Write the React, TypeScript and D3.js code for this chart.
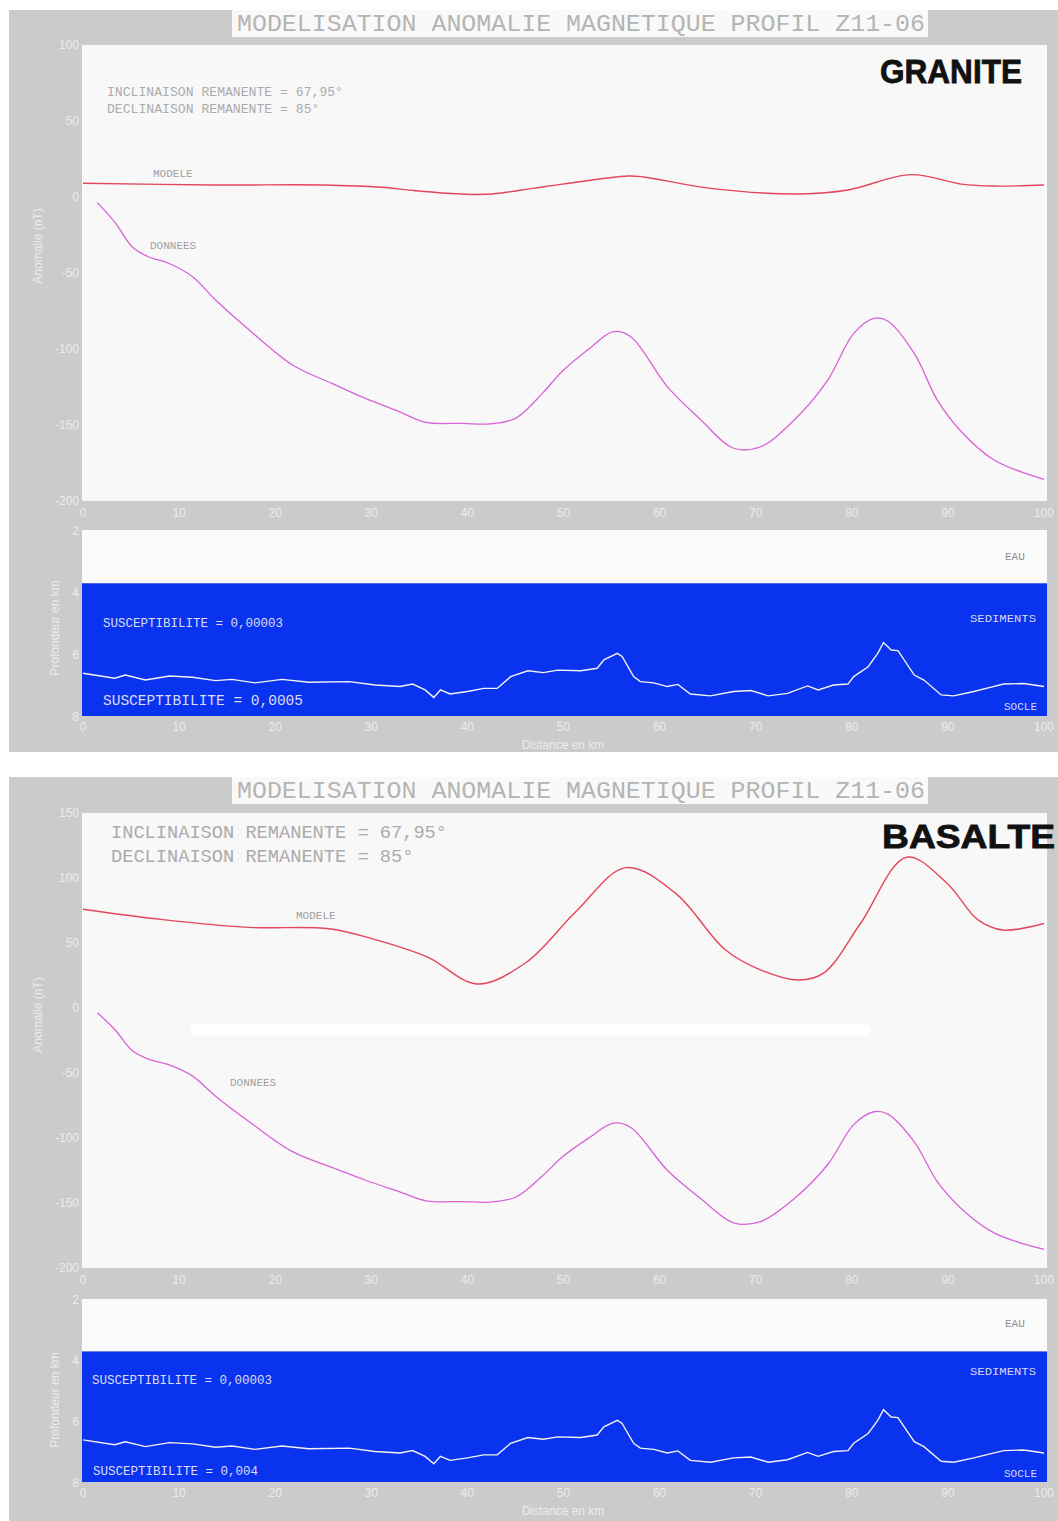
import React from "react";
import * as d3 from "d3";

// ---------- DATA ----------
const TITLE = "MODELISATION ANOMALIE MAGNETIQUE PROFIL Z11-06";
const xTicks = [0, 10, 20, 30, 40, 50, 60, 70, 80, 90, 100];
const yTicksGranite = [100, 50, 0, -50, -100, -150, -200];
const yTicksBasalte = [150, 100, 50, 0, -50, -100, -150, -200];
const depthTicks = [2, 4, 6, 8];
const seaFloorDepth = 3.72;

// observed anomaly (nT) [km, value]
const donnees: [number, number][] = [
  [1.5, -3.7], [3.4, -17.3], [5.1, -32.7], [6.8, -39.3], [8.9, -43.6], [11.4, -52.4],
  [13.8, -67.8], [17.3, -87.5], [21.8, -110.5], [25.9, -122.6], [29.4, -132.5],
  [32.9, -141.2], [35.7, -148.3], [39.5, -148.9], [42.3, -149.3], [45.0, -145.6],
  [47.8, -129.2], [49.9, -114.5], [52.5, -100.7], [55.2, -88.6], [57.0, -91.9],
  [60.8, -124.8], [64.3, -146.7], [67.7, -165.3], [70.5, -164.3], [74.0, -146.7],
  [77.5, -120.4], [80.2, -89.7], [82.3, -79.8], [83.7, -81.4], [86.5, -102.9],
  [88.9, -133.6], [91.4, -154.4], [94.8, -173.0], [100, -185.7],
];

// model anomaly, granite case
const modeleGranite: [number, number][] = [
  [0, 9], [13.8, 7.9], [24.9, 7.9], [31.1, 6.4], [34.6, 4.1], [39.8, 1.8], [42.6, 2],
  [46.8, 5.7], [49.9, 8.5], [56.7, 13.8], [58.3, 13.2], [65.3, 5.7], [74.7, 2],
  [79.6, 4.6], [86.1, 14.7], [91.4, 8.5], [94.8, 7.2], [100, 7.9],
];

// model anomaly, basalte case
const modeleBasalte: [number, number][] = [
  [0, 76], [8.3, 68], [17.3, 62], [25.6, 61], [30.7, 52], [35.9, 39], [41.0, 18.5],
  [46.1, 35], [51.4, 75], [56.5, 108], [61.7, 88], [66.8, 45], [70.6, 29], [74.5, 21.5],
  [77.1, 27], [80.9, 65], [85.7, 116], [89.9, 96], [93.1, 68], [95.7, 60], [100, 65],
];

// basement depth (km) [km, depth]
const socle: [number, number][] = [
  [0, 6.62], [3.3, 6.78], [4.4, 6.68], [6.5, 6.84], [9.0, 6.71], [11.4, 6.75], [13.8, 6.86],
  [15.5, 6.82], [17.9, 6.93], [20.7, 6.82], [23.5, 6.91], [27.7, 6.89], [30.4, 7.0],
  [33.0, 7.05], [34.3, 6.97], [35.6, 7.16], [36.5, 7.4], [37.2, 7.16], [38.2, 7.29],
  [40.0, 7.21], [41.7, 7.11], [43.1, 7.11], [44.5, 6.73], [46.3, 6.54], [47.9, 6.6],
  [49.4, 6.52], [51.8, 6.54], [53.5, 6.46], [54.2, 6.19], [55.6, 5.98], [56.1, 6.08],
  [57.3, 6.73], [58.0, 6.89], [59.4, 6.93], [60.8, 7.05], [61.9, 6.98], [63.2, 7.29],
  [65.3, 7.35], [67.7, 7.21], [69.5, 7.18], [71.3, 7.35], [73.3, 7.27], [75.4, 7.03],
  [76.5, 7.16], [78.1, 7.0], [79.6, 6.97], [80.2, 6.73], [81.7, 6.41], [82.7, 5.98],
  [83.3, 5.63], [84.1, 5.87], [84.8, 5.89], [86.5, 6.68], [87.5, 6.84], [89.3, 7.32],
  [90.6, 7.35], [92.7, 7.21], [94.5, 7.07], [95.8, 6.97], [97.9, 6.95], [100, 7.05],
];

// ---------- STYLE ----------
const GRAY = "#cbcbcb";
const PLOT_BG = "#f8f8f8";
const BLUE = "#0a33f0";
const TICK = "#ececec";
const MONO = "'Liberation Mono', 'DejaVu Sans Mono', monospace";
const SANS = "'Liberation Sans', Arial, sans-serif";

type FigProps = {
  top: number;
  bottom: number;
  plotTop: number;
  plotBottom: number;
  yDomain: [number, number];
  yTicks: number[];
  depthTop: number;
  depthBottom: number;
  model: [number, number][];
  label: string;
  labelX: number;
  labelW: number;
  labelBase: number;
  incl: { x: number; y1: number; y2: number; size: number; w: number };
  modeleLbl: { x: number; y: number; size: number };
  donneesLbl: { x: number; y: number; size: number };
  sus1: { text: string; x: number; y: number; size: number; w: number };
  sus2: { text: string; x: number; y: number; size: number; w: number };
  layerLbl: { eau: number; sed: number; socle: number };
  yLabelCenter: number;
  depthLabelCenter: number;
  smear?: boolean;
};

function Figure(p: FigProps) {
  const x = d3.scaleLinear().domain([0, 100]).range([83, 1044]);
  const y = d3.scaleLinear().domain(p.yDomain).range([p.plotBottom, p.plotTop]);
  const dz = d3.scaleLinear().domain([2, 8]).range([p.depthTop, p.depthBottom]);
  const lineA = d3
    .line<[number, number]>()
    .x((d) => x(d[0]))
    .y((d) => y(d[1]))
    .curve(d3.curveCatmullRom.alpha(0.5));
  const lineD = d3
    .line<[number, number]>()
    .x((d) => x(d[0]))
    .y((d) => dz(d[1]));
  const plotL = 82;
  const plotR = 1047;
  const xLblY1 = p.plotBottom + 16;
  const xLblY2 = p.depthBottom + 15;
  return (
    <g>
      <rect x={9} y={p.top} width={1049} height={p.bottom - p.top} fill={GRAY} />
      {/* title */}
      <rect x={232} y={p.top} width={696} height={27} fill="#f9f9f9" />
      <text x={237} y={p.top + 21} fontFamily={MONO} fontSize={24} fill="#b4b4b4"
        textLength={688} lengthAdjust="spacingAndGlyphs">{TITLE}</text>
      {/* anomaly plot */}
      <rect x={plotL} y={p.plotTop} width={plotR - plotL} height={p.plotBottom - p.plotTop} fill={PLOT_BG} />
      {p.smear && (
        <rect x={190} y={1024} width={680} height={12} rx={6} fill="#ffffff" />
      )}
      {p.yTicks.map((t) => (
        <text key={t} x={79} y={y(t) + 4} textAnchor="end" fontFamily={SANS} fontSize={12} fill={TICK}>{t}</text>
      ))}
      <text transform={`translate(42,${p.yLabelCenter}) rotate(-90)`} textAnchor="middle" fontFamily={SANS}
        fontSize={12} fill={TICK}>{"Anomalie      (nT)"}</text>
      {xTicks.map((t) => (
        <text key={"a" + t} x={x(t)} y={xLblY1} textAnchor="middle" fontFamily={SANS} fontSize={12} fill={TICK}>{t}</text>
      ))}
      <path d={lineA(p.model) || ""} fill="none" stroke="#e4465c" strokeWidth={1.4} />
      <path d={lineA(donnees) || ""} fill="none" stroke="#d862d8" strokeWidth={1.3} />
      <text x={p.incl.x} y={p.incl.y1} fontFamily={MONO} fontSize={p.incl.size} fill="#ababab"
        textLength={p.incl.w} lengthAdjust="spacingAndGlyphs">INCLINAISON REMANENTE = 67,95°</text>
      <text x={p.incl.x} y={p.incl.y2} fontFamily={MONO} fontSize={p.incl.size} fill="#ababab"
        textLength={p.incl.w * 27 / 30} lengthAdjust="spacingAndGlyphs">DECLINAISON REMANENTE = 85°</text>
      <text x={p.modeleLbl.x} y={p.modeleLbl.y} fontFamily={MONO} fontSize={p.modeleLbl.size} fill="#a0a0a0">MODELE</text>
      <text x={p.donneesLbl.x} y={p.donneesLbl.y} fontFamily={MONO} fontSize={p.donneesLbl.size} fill="#a0a0a0">DONNEES</text>
      <text x={p.labelX} y={p.labelBase} fontFamily={SANS} fontWeight="bold" fontSize={34} fill="#111"
        stroke="#111" strokeWidth={0.8}
        textLength={p.labelW} lengthAdjust="spacingAndGlyphs">{p.label}</text>
      {/* depth panel */}
      <rect x={plotL} y={p.depthTop} width={plotR - plotL} height={dz(seaFloorDepth) - p.depthTop} fill="#fbfbfb" />
      <rect x={plotL} y={dz(seaFloorDepth)} width={plotR - plotL} height={p.depthBottom - dz(seaFloorDepth)} fill={BLUE} />
      <path d={lineD(socle) || ""} fill="none" stroke="#f2f2f2" strokeWidth={1.4} />
      {depthTicks.map((t) => (
        <text key={"d" + t} x={79} y={dz(t) + 5} textAnchor="end" fontFamily={SANS} fontSize={12} fill={TICK}>{t}</text>
      ))}
      <text transform={`translate(59,${p.depthLabelCenter}) rotate(-90)`} textAnchor="middle" fontFamily={SANS}
        fontSize={12} fill={TICK}>Profondeur en km</text>
      {xTicks.map((t) => (
        <text key={"b" + t} x={x(t)} y={xLblY2} textAnchor="middle" fontFamily={SANS} fontSize={12} fill={TICK}>{t}</text>
      ))}
      <text x={563} y={p.depthBottom + 33} textAnchor="middle" fontFamily={SANS} fontSize={12} fill={TICK}>Distance en km</text>
      <text x={p.sus1.x} y={p.sus1.y} fontFamily={MONO} fontSize={p.sus1.size} fill="#dcdcf4"
        textLength={p.sus1.w} lengthAdjust="spacingAndGlyphs">{p.sus1.text}</text>
      <text x={p.sus2.x} y={p.sus2.y} fontFamily={MONO} fontSize={p.sus2.size} fill="#dcdcf4"
        textLength={p.sus2.w} lengthAdjust="spacingAndGlyphs">{p.sus2.text}</text>
      <text x={1005} y={p.layerLbl.eau} fontFamily={MONO} fontSize={11} fill="#909090">EAU</text>
      <text x={1036} y={p.layerLbl.sed} textAnchor="end" fontFamily={MONO} fontSize={11} fill="#d8d8f0"
        textLength={66} lengthAdjust="spacingAndGlyphs">SEDIMENTS</text>
      <text x={1037} y={p.layerLbl.socle} textAnchor="end" fontFamily={MONO} fontSize={11} fill="#d8d8f0">SOCLE</text>
    </g>
  );
}

export default function App() {
  return (
    <div style={{ position: "absolute", left: 0, top: 0 }}>
      <svg width={1058} height={1521} style={{ display: "block", background: "#ffffff" }}>
        <Figure
          top={10}
          bottom={752}
          plotTop={45}
          plotBottom={501}
          yDomain={[-200, 100]}
          yTicks={yTicksGranite}
          depthTop={530}
          depthBottom={716}
          model={modeleGranite}
          label="GRANITE"
          labelX={880}
          labelW={142}
          labelBase={83}
          incl={{ x: 107, y1: 96, y2: 113, size: 12, w: 236 }}
          modeleLbl={{ x: 153, y: 177, size: 11 }}
          donneesLbl={{ x: 150, y: 249, size: 11 }}
          sus1={{ text: "SUSCEPTIBILITE = 0,00003", x: 103, y: 627, size: 12, w: 180 }}
          sus2={{ text: "SUSCEPTIBILITE = 0,0005", x: 103, y: 705, size: 14, w: 200 }}
          layerLbl={{ eau: 560, sed: 622, socle: 710 }}
          yLabelCenter={246}
          depthLabelCenter={628}
        />
        <Figure
          top={777}
          bottom={1521}
          plotTop={813}
          plotBottom={1268}
          yDomain={[-200, 150]}
          yTicks={yTicksBasalte}
          depthTop={1299}
          depthBottom={1482}
          model={modeleBasalte}
          label="BASALTE"
          labelX={882}
          labelW={173}
          labelBase={848}
          incl={{ x: 111, y1: 838, y2: 862, size: 18, w: 336 }}
          modeleLbl={{ x: 296, y: 919, size: 11 }}
          donneesLbl={{ x: 230, y: 1086, size: 11 }}
          sus1={{ text: "SUSCEPTIBILITE = 0,00003", x: 92, y: 1384, size: 12, w: 180 }}
          sus2={{ text: "SUSCEPTIBILITE = 0,004", x: 93, y: 1475, size: 12, w: 165 }}
          layerLbl={{ eau: 1327, sed: 1375, socle: 1477 }}
          yLabelCenter={1015}
          depthLabelCenter={1400}
          smear
        />
      </svg>
    </div>
  );
}
